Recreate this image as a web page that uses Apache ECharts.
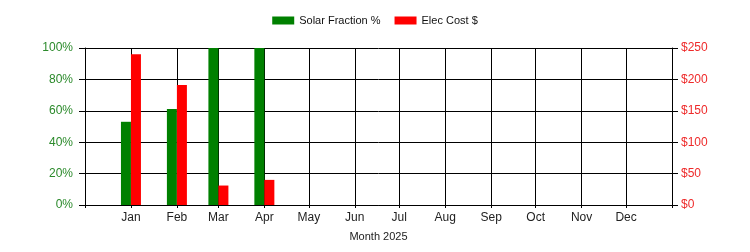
<!DOCTYPE html>
<html>
<head>
<meta charset="utf-8">
<script src="https://cdn.jsdelivr.net/npm/echarts@6/dist/echarts.min.js"></script>
<style>html,body{margin:0;padding:0;background:#fff}#c{width:750px;height:252px}</style>
</head>
<body>
<div id="c"></div>
<script>
var year = 2025;
var monthNames = ['Jan','Feb','Mar','Apr','May','Jun','Jul','Aug','Sep','Oct','Nov','Dec'];
var dataMonths = [0, 1, 2, 3];
var solarFraction = [53, 61.2, 100, 100];
var elecCost = [240, 191, 31, 40];
var seriesNames = ['Solar Fraction %', 'Elec Cost $'];
var axisTitle = 'Month 2025';

var FONT = '"Liberation Sans", Arial, sans-serif';
var DAY = 86400000;
var origin = Date.UTC(year - 1, 11, 1);
function d(y, m) { return Math.round((Date.UTC(y, m, 1) - origin) / DAY); }
var xMin = d(year - 1, 11), xMax = d(year + 1, 0);
var monthTicks = monthNames.map(function (_, i) { return d(year, i); });
var allTicks = [xMin].concat(monthTicks, [xMax]);

var chart = echarts.init(document.getElementById('c'), null, {renderer: 'canvas'});
chart.setOption({
  animation: false,
  backgroundColor: '#fff',
  textStyle: {fontFamily: FONT},
  legend: {
    top: 10, left: 'center', itemWidth: 22, itemHeight: 8, itemGap: 14,
    icon: 'rect',
    textStyle: {fontFamily: FONT, fontSize: 11, color: '#111'},
    data: seriesNames
  },
  grid: {left: 85, right: 78, top: 48, bottom: 47, containLabel: false},
  xAxis: {
    type: 'value', min: xMin, max: xMax,
    name: axisTitle, nameLocation: 'middle', nameGap: 26,
    nameTextStyle: {fontFamily: FONT, fontSize: 11, color: '#222'},
    axisLine: {show: true, onZero: false, lineStyle: {color: '#000', width: 1}},
    axisTick: {show: true, length: 3, customValues: allTicks, lineStyle: {color: '#000'}},
    axisLabel: {
      customValues: monthTicks, margin: 7, fontFamily: FONT, fontSize: 12, color: '#222',
      formatter: function (v) { return monthNames[new Date(origin + v * DAY).getUTCMonth()]; }
    },
    splitLine: {show: true, lineStyle: {color: '#000', width: 1}}
  },
  yAxis: [
    {
      type: 'value', min: 0, max: 100, interval: 20, position: 'left',
      axisLine: {show: true, lineStyle: {color: '#000'}},
      axisTick: {show: true, length: 6, lineStyle: {color: '#000'}},
      axisLabel: {formatter: '{value}%', color: '#2b8a2b', fontFamily: FONT, fontSize: 12, margin: 12},
      splitLine: {show: true, lineStyle: {color: '#000', width: 1}}
    },
    {
      type: 'value', min: 0, max: 250, interval: 50, position: 'right',
      axisLine: {show: true, lineStyle: {color: '#000'}},
      axisTick: {show: true, length: 6, lineStyle: {color: '#000'}},
      axisLabel: {formatter: '${value}', color: '#ee2a2a', fontFamily: FONT, fontSize: 12, margin: 9},
      splitLine: {show: false}
    }
  ],
  series: [
    {
      name: seriesNames[0], type: 'bar', yAxisIndex: 0, barWidth: 10, barGap: '0%',
      itemStyle: {color: '#008000'},
      data: dataMonths.map(function (m, i) { return [d(year, m), solarFraction[i]]; })
    },
    {
      name: seriesNames[1], type: 'bar', yAxisIndex: 1, barWidth: 10, barGap: '0%',
      itemStyle: {color: '#ff0000'},
      data: dataMonths.map(function (m, i) { return [d(year, m), elecCost[i]]; })
    }
  ]
});
</script>
</body>
</html>
